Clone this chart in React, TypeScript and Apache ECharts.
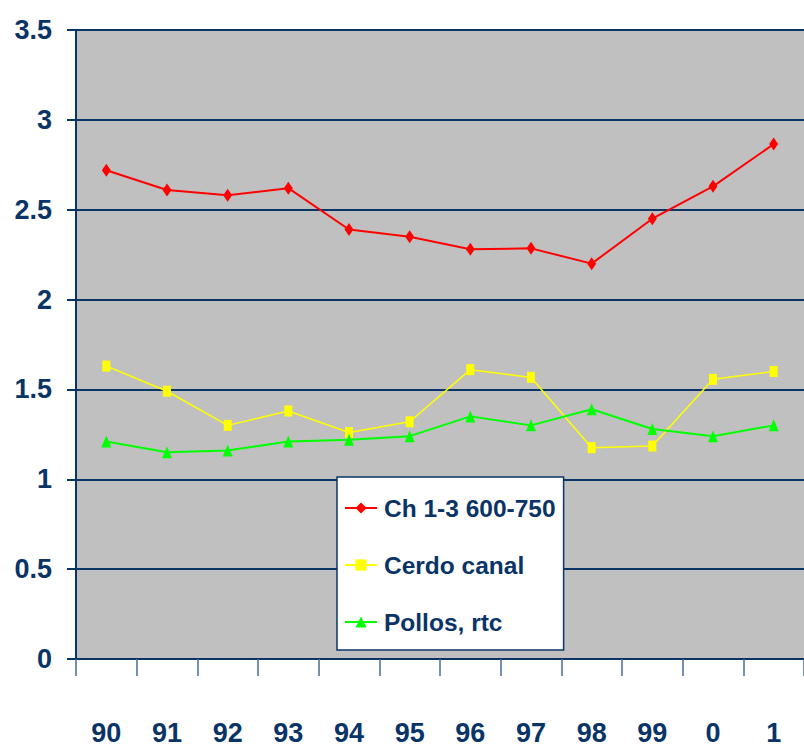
import React, { useEffect, useRef } from "react";
import * as echarts from "echarts";

const categories = ["90", "91", "92", "93", "94", "95", "96", "97", "98", "99", "0", "1"];
const chValues = [2.72, 2.61, 2.58, 2.62, 2.39, 2.35, 2.28, 2.285, 2.2, 2.45, 2.63, 2.865];
const cerdoValues = [1.63, 1.49, 1.3, 1.38, 1.26, 1.32, 1.61, 1.567, 1.176, 1.185, 1.556, 1.6];
const pollosValues = [1.21, 1.15, 1.16, 1.21, 1.22, 1.24, 1.35, 1.3, 1.39, 1.28, 1.24, 1.3];
const seriesNames = ["Ch 1-3 600-750", "Cerdo canal", "Pollos, rtc"];

const NAVY = "#0A3466";
const FONT = "'Liberation Sans', Arial, sans-serif";

export default function App() {
  const ref = useRef<HTMLDivElement>(null);
  useEffect(() => {
    if (!ref.current) return;
    const chart = echarts.init(ref.current, undefined, { renderer: "svg" });
    chart.setOption({
      animation: false,
      backgroundColor: "#ffffff",
      grid: { left: 76, right: -10, top: 30, bottom: 97, containLabel: false, show: true, backgroundColor: "#C0C0C0", borderWidth: 0 },
      legend: {
        orient: "vertical",
        left: 337,
        top: 477,
        backgroundColor: "#ffffff",
        borderColor: NAVY,
        borderWidth: 1.5,
        borderRadius: 0,
        padding: [16, 8, 13, 7],
        itemWidth: 32,
        itemHeight: 14,
        itemGap: 27,
        data: seriesNames,
        textStyle: { color: NAVY, fontSize: 24.5, fontWeight: "bold", fontFamily: FONT, lineHeight: 30, padding: [0, 0, 0, 2] },
      },
      xAxis: {
        type: "category",
        data: categories,
        boundaryGap: true,
        axisLine: { lineStyle: { color: NAVY, width: 2 } },
        axisTick: { show: true, length: 17, lineStyle: { color: "#4A6A94", width: 1.5 } },
        axisLabel: { color: NAVY, fontSize: 27, fontWeight: "bold", fontFamily: FONT, margin: 60 },
        splitLine: { show: false },
      },
      yAxis: {
        type: "value",
        min: 0,
        max: 3.5,
        interval: 0.5,
        axisLine: { show: true, lineStyle: { color: NAVY, width: 2 } },
        axisTick: { show: true, length: 9, lineStyle: { color: NAVY, width: 2 } },
        axisLabel: { color: NAVY, fontSize: 27, fontWeight: "bold", fontFamily: FONT, margin: 24 },
        splitLine: { show: true, lineStyle: { color: NAVY, width: 2 } },
      },
      series: [
        {
          name: seriesNames[0],
          type: "line",
          data: chValues,
          symbol: "diamond",
          symbolSize: [9, 13],
          itemStyle: { color: "#FF0000" },
          lineStyle: { color: "#FF0000", width: 2 },
        },
        {
          name: seriesNames[1],
          type: "line",
          data: cerdoValues,
          symbol: "rect",
          symbolSize: [8, 11],
          itemStyle: { color: "#FFFF00" },
          lineStyle: { color: "#FFFF00", width: 1.5 },
        },
        {
          name: seriesNames[2],
          type: "line",
          data: pollosValues,
          symbol: "triangle",
          symbolSize: [10, 12],
          itemStyle: { color: "#00FF00" },
          lineStyle: { color: "#00FF00", width: 2 },
        },
      ],
    });
    return () => chart.dispose();
  }, []);
  return <div ref={ref} style={{ position: "fixed", left: 0, top: 0, width: 804, height: 756 }} />;
}
